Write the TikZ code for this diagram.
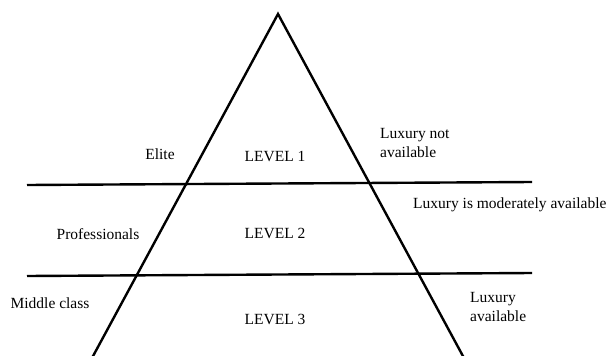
\documentclass[tikz,border=0pt]{standalone}
\usepackage{fontspec}
\setmainfont{Liberation Serif}
\begin{document}
\begin{tikzpicture}[x=1pt,y=-1pt,
  edge/.style={line width=2.4pt, line cap=butt},
  lbl/.style={font=\fontsize{15.5}{19}\selectfont, inner sep=0pt},
  lbll/.style={lbl, anchor=west, align=left}]
\useasboundingbox (0,0) rectangle (613,356);
\coordinate (apex) at (278,14);
\coordinate (bl) at (92,358);
\coordinate (br) at (464,358);
\coordinate (l1a) at (27,185);
\coordinate (l1b) at (532,182);
\coordinate (l2a) at (27,276);
\coordinate (l2b) at (532,273);
\draw[edge, line join=miter] (bl) -- (apex) -- (br);
\draw[edge] (l1a) -- (l1b);
\draw[edge] (l2a) -- (l2b);
\node[lbl] (elite) at (160,154) {Elite};
\node[lbl] (lv1) at (275,156) {LEVEL 1};
\node[lbll] (lna) at (380,143) {Luxury not\\available};
\node[lbll] (lma) at (413,205) {Luxury is moderately available};
\node[lbl] (prof) at (98,234) {Professionals};
\node[lbl] (lv2) at (275,233) {LEVEL 2};
\node[lbl] (mid) at (50,303) {Middle class};
\node[lbl] (lv3) at (275,319) {LEVEL 3};
\node[lbll] (la) at (470,307) {Luxury\\available};
\end{tikzpicture}
\end{document}
